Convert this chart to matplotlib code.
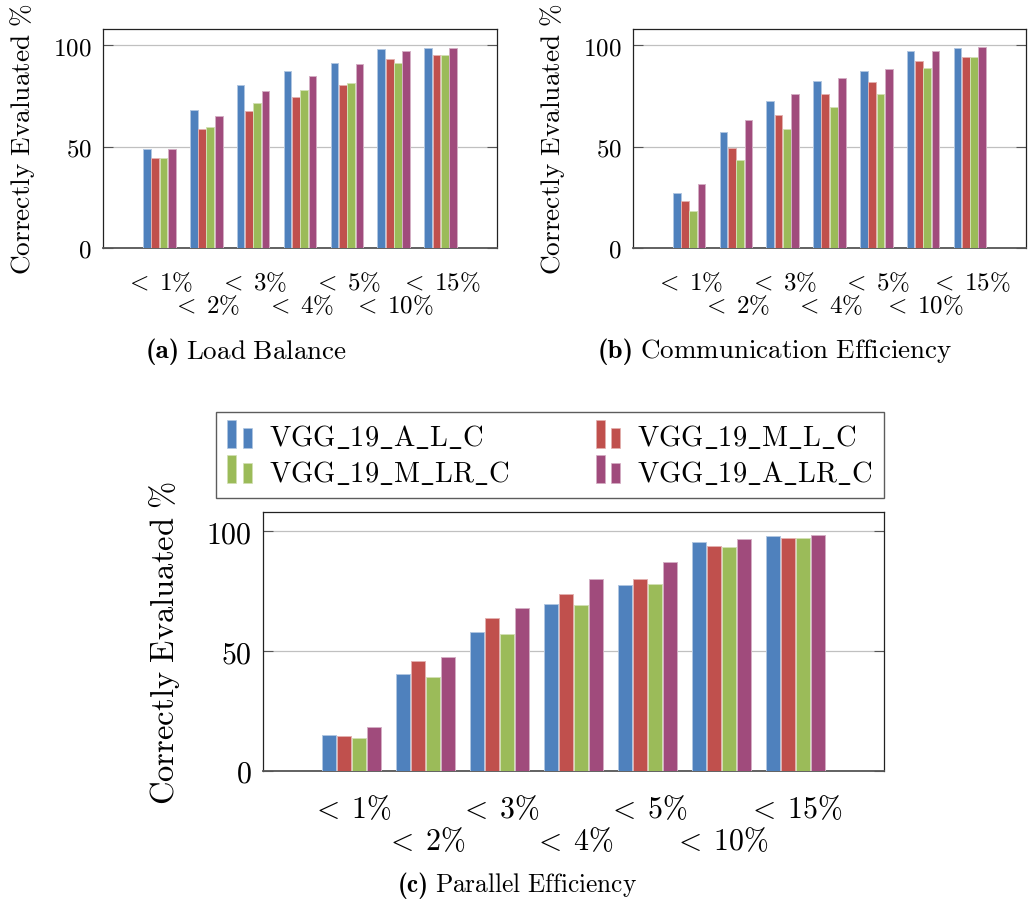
import matplotlib
matplotlib.use("Agg")
import matplotlib.pyplot as plt
import numpy as np
from matplotlib.patches import Rectangle
from matplotlib.legend_handler import HandlerBase
from matplotlib.text import Annotation

plt.rcParams['mathtext.fontset'] = 'cm'
plt.rcParams['font.family'] = ['DejaVu Serif']

# ---------------- data ----------------
thresholds = ["< 1%", "< 2%", "< 3%", "< 4%", "< 5%", "< 10%", "< 15%"]
series_names = ["VGG_19_A_L_C", "VGG_19_M_L_C", "VGG_19_M_LR_C", "VGG_19_A_LR_C"]
colors = ["#4F81BD", "#C0504D", "#9BBB59", "#A04B7C"]

# (a) Load Balance
lb_A_L_C = [48.8, 68.1, 80.3, 87.5, 91.3, 97.9, 98.7]
lb_M_L_C = [44.6, 58.7, 67.4, 74.5, 80.4, 93.1, 95.4]
lb_M_LR_C = [44.6, 59.9, 71.4, 78.0, 81.3, 91.4, 95.1]
lb_A_LR_C = [48.8, 65.1, 77.5, 84.9, 90.6, 97.0, 98.5]

# (b) Communication Efficiency
ce_A_L_C = [27.1, 57.4, 72.7, 82.5, 87.3, 97.0, 98.7]
ce_M_L_C = [23.3, 49.1, 65.5, 75.9, 81.7, 92.4, 94.4]
ce_M_LR_C = [18.3, 43.3, 58.8, 69.3, 76.0, 88.9, 94.0]
ce_A_LR_C = [31.7, 63.0, 75.9, 83.6, 88.3, 97.2, 99.2]

# (c) Parallel Efficiency
pe_A_L_C = [14.9, 40.3, 58.1, 69.6, 77.6, 95.4, 98.1]
pe_M_L_C = [14.5, 45.8, 63.9, 74.0, 79.9, 93.9, 97.2]
pe_M_LR_C = [13.9, 39.1, 57.2, 69.4, 78.1, 93.2, 97.2]
pe_A_LR_C = [18.5, 47.5, 68.0, 80.2, 87.0, 96.7, 98.3]

yticks = [0, 50, 100]

W, H = 1028, 903
fig = plt.figure(figsize=(W / 100, H / 100), dpi=100)


def px_axes(l, t, r, b):
    return fig.add_axes([l / W, 1 - b / H, (r - l) / W, (b - t) / H])


def lighten(c, f=0.55):
    rgb = np.array(matplotlib.colors.to_rgb(c))
    return tuple(rgb + (1 - rgb) * f)


def mt(s, space=r"\ "):
    s = s.replace("%", r"\%").replace("_", r"\_")
    s = s.replace(" ", space)
    return r"$\mathrm{" + s + "}$"


def draw_panel(ax, data, fs, lab_fs, pitch, width, row1, row2, ylab_x):
    x = np.arange(len(thresholds))
    n = len(data)
    for i, (vals, c) in enumerate(zip(data, colors)):
        off = (i - (n - 1) / 2) * pitch
        ax.bar(x + off, vals, width=width, color=c, edgecolor=lighten(c),
               linewidth=0.7, zorder=3)
    ax.set_xlim(-1.2, 7.2)
    ax.set_ylim(0, 108)
    ax.set_yticks(yticks)
    ax.set_yticklabels([mt(str(v)) for v in yticks], fontsize=fs)
    ax.set_xticks(x)
    ax.set_xticklabels([])
    ax.tick_params(axis='x', length=0)
    ax.tick_params(axis='y', direction='in', length=7, width=0.8,
                   color='#555555', left=True, right=True, pad=8)
    ax.grid(axis='y', color='#c0c0c0', linewidth=0.9, zorder=0)
    ax.set_axisbelow(True)
    for s in ax.spines.values():
        s.set_color('#222222')
        s.set_linewidth(0.9)
    ax.spines['bottom'].set_color('#555555')
    ax.spines['bottom'].set_linewidth(1.3)
    for i, lab in enumerate(thresholds):
        dy = row1 if i % 2 == 0 else row2
        ax.annotate(mt(lab, space=r"\;"), xy=(i, 0), xycoords=('data', 'axes fraction'),
                    xytext=(0, -dy), textcoords='offset pixels',
                    ha='center', va='baseline', fontsize=fs)
    ax.set_ylabel(mt("Correctly Evaluated %"), fontsize=lab_fs)
    ax.yaxis.set_label_coords(ylab_x, 0.5, transform=matplotlib.transforms.blended_transform_factory(
        fig.transFigure, ax.transAxes))


axA = px_axes(103, 30, 497, 249)
draw_panel(axA, [lb_A_L_C, lb_M_L_C, lb_M_LR_C, lb_A_LR_C], 18, 19.7, 0.178, 0.165, 41, 64, 37 / W)
axB = px_axes(633, 30, 1026, 249)
draw_panel(axB, [ce_A_L_C, ce_M_L_C, ce_M_LR_C, ce_A_LR_C], 18, 19.7, 0.178, 0.165, 41, 64, 567 / W)
axC = px_axes(263, 513, 884, 772)
draw_panel(axC, [pe_A_L_C, pe_M_L_C, pe_M_LR_C, pe_A_LR_C], 21.5, 23.5, 0.205, 0.19, 46, 78, 182 / W)


# captions: bold "(x)" in cmb10 followed by roman text
def caption(x_left, y_base, tag, text, fs):
    t1 = fig.text(x_left / W, 1 - y_base / H, tag, ha='left', va='baseline',
                  fontsize=fs, family='cmb10')
    ann = Annotation(mt(text), xy=(1, 0), xycoords=t1, xytext=(6, 0),
                     textcoords='offset pixels', ha='left', va='bottom',
                     fontsize=fs, annotation_clip=False)
    fig.add_artist(ann)


caption(146, 358, "(a)", "Load Balance", 19.5)
caption(598, 358, "(b)", "Communication Efficiency", 19.5)
caption(398, 892, "(c)", "Parallel Efficiency", 18.3)


# legend with two-bar handles
class TwoBarHandler(HandlerBase):
    def create_artists(self, legend, orig_handle, xdescent, ydescent, width, height, fontsize, trans):
        c = orig_handle.get_facecolor()
        bw = width * 0.36
        y0 = -ydescent - height * 0.1
        r1 = Rectangle((-xdescent, y0), bw, height * 1.35, facecolor=c, edgecolor=lighten(c), lw=0.5, transform=trans)
        r2 = Rectangle((-xdescent + width * 0.64, y0), bw, height * 0.95, facecolor=c, edgecolor=lighten(c), lw=0.5, transform=trans)
        return [r1, r2]


# matplotlib fills legend column-wise: reorder so rows read A_L_C | M_L_C, M_LR_C | A_LR_C
order = [0, 2, 1, 3]
handles = [Rectangle((0, 0), 1, 1, facecolor=colors[k]) for k in order]
labels = [mt(series_names[k]) for k in order]
leg = fig.legend(handles, labels, ncol=2,
                 loc='upper left', bbox_to_anchor=(216 / W, 1 - 499 / H, 668 / W, 86 / H),
                 mode='expand', fontsize=20.5, frameon=True, fancybox=False,
                 handler_map={Rectangle: TwoBarHandler()}, handlelength=0.85,
                 handleheight=0.72, handletextpad=0.6, labelspacing=0.25,
                 borderpad=0.4, borderaxespad=0, columnspacing=1.0)
leg.get_frame().set_edgecolor('#333333')
leg.get_frame().set_linewidth(1.0)

fig.savefig("out.png", dpi=100)
